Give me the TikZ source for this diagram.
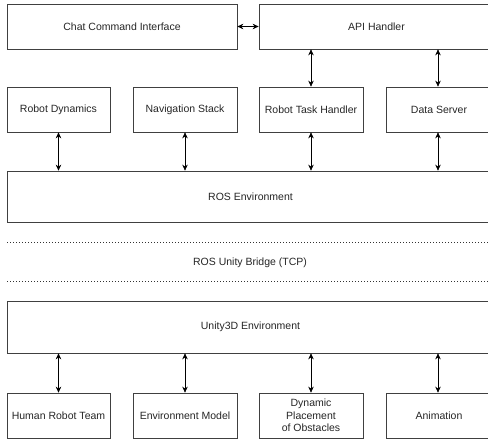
\documentclass[tikz,border=0pt]{standalone}
\usepackage{fontspec}
\setmainfont{Liberation Sans}
\usetikzlibrary{arrows.meta}
\begin{document}
\begin{tikzpicture}[x=1pt,y=-1pt,
  box/.style={draw=black!75,line width=0.7pt,rectangle,inner sep=0pt,align=center,font=\fontsize{10.5}{12.5}\selectfont,text=black!85},
  conn/.style={line width=0.7pt,{Stealth[length=6pt,width=5.5pt]}-{Stealth[length=6pt,width=5.5pt]}},
  dotline/.style={line width=1pt,dash pattern=on 1pt off 2pt,black!80}]
\useasboundingbox (0,0) rectangle (488,443);
\clip (0,0) rectangle (488,443);
\fill[white] (0,0) rectangle (488,443);
\node[box,minimum width=230pt,minimum height=45pt] (chat) at (122,26.5) {Chat Command Interface};
\node[box,minimum width=235pt,minimum height=45pt] (api) at (376.5,26.5) {API Handler};
\node[box,minimum width=103pt,minimum height=45pt] (rd) at (58.5,109.5) {Robot Dynamics};
\node[box,minimum width=104pt,minimum height=45pt] (nav) at (185,109.5) {Navigation Stack};
\node[box,minimum width=104pt,minimum height=45pt] (rth) at (311,109.5) {Robot Task Handler};
\node[box,minimum width=106pt,minimum height=45pt] (ds) at (439,109.5) {Data Server};
\node[box,minimum width=487pt,minimum height=51pt] (ros) at (250.5,196.5) {ROS Environment};
\coordinate (d1a) at (7,243);
\coordinate (d1b) at (490,243);
\coordinate (d2a) at (7,282);
\coordinate (d2b) at (490,282);
\draw[dotline] (d1a) -- (d1b);
\draw[dotline] (d2a) -- (d2b);
\node[font=\fontsize{10.5}{12.5}\selectfont,text=black!85] (bridge) at (250,263) {ROS Unity Bridge (TCP)};
\node[box,minimum width=487pt,minimum height=52pt] (unity) at (250.5,327) {Unity3D Environment};
\node[box,minimum width=103pt,minimum height=45pt] (hrt) at (58.5,415.5) {Human Robot Team};
\node[box,minimum width=104pt,minimum height=45pt] (env) at (185,415.5) {Environment Model};
\node[box,minimum width=104pt,minimum height=45pt] (dpo) at (311,415.5) {Dynamic\\Placement\\of Obstacles};
\node[box,minimum width=106pt,minimum height=45pt] (anim) at (439,415.5) {Animation};
\draw[conn] (chat.east) -- (api.west);
\draw[conn] (rth.north) -- (rth.north |- api.south);
\draw[conn] ([xshift=-1pt]ds.north) -- ([xshift=-1pt]ds.north |- api.south);
\foreach \n in {rd,nav,rth}{\draw[conn] (\n.south) -- (\n.south |- ros.north);}
\draw[conn] ([xshift=-1pt]ds.south) -- ([xshift=-1pt]ds.south |- ros.north);
\foreach \n in {hrt,env,dpo}{\draw[conn] (\n.north) -- (\n.north |- unity.south);}
\draw[conn] ([xshift=-1pt]anim.north) -- ([xshift=-1pt]anim.north |- unity.south);
\end{tikzpicture}
\end{document}
